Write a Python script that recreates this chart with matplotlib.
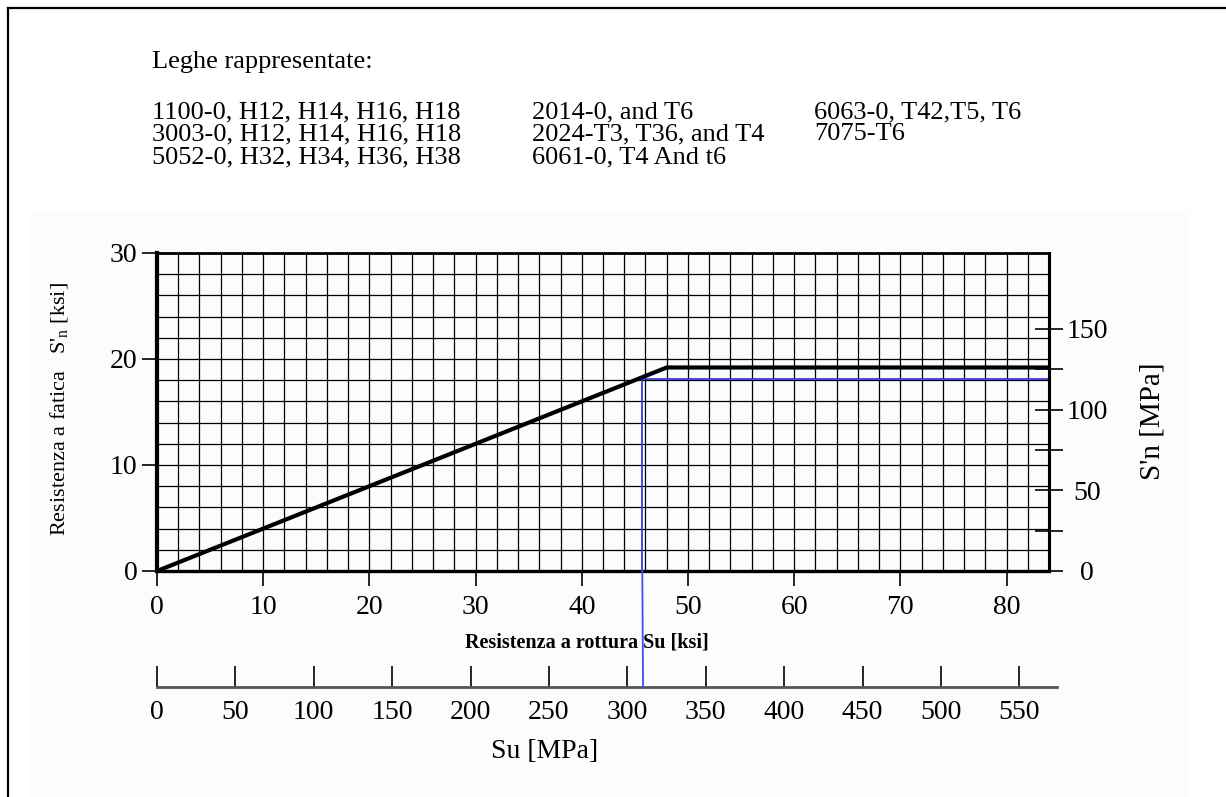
import numpy as np
import matplotlib
matplotlib.use("Agg")
import matplotlib.pyplot as plt
from matplotlib.patches import ConnectionPatch, Rectangle

plt.rcParams['font.family'] = ['Liberation Serif', 'DejaVu Serif']
plt.rcParams['mathtext.fontset'] = 'custom'
plt.rcParams['mathtext.rm'] = 'Liberation Serif'

# fatigue strength curve (ksi)
su_ksi = [0, 48, 84]
sn_ksi = [0, 19.2, 19.2]
# example reading (blue)
pt_su_ksi = 45.7
pt_sn_ksi = 18.1
pt_su_mpa = 310

ksi_ticks = [0, 10, 20, 30, 40, 50, 60, 70, 80]
sn_ticks = [0, 10, 20, 30]
mpa_right_ticks = [0, 25, 50, 75, 100, 125, 150]
mpa_bottom_ticks = [0, 50, 100, 150, 200, 250, 300, 350, 400, 450, 500, 550]

col1 = ["1100-0, H12, H14, H16, H18", "3003-0, H12, H14, H16, H18", "5052-0, H32, H34, H36, H38"]
col2 = ["2014-0, and T6", "2024-T3, T36, and T4", "6061-0, T4 And t6"]
col3 = ["6063-0, T42,T5, T6", "7075-T6"]

W, H = 1226, 797
fig = plt.figure(figsize=(W / 100, H / 100), dpi=100)


def fx(px):
    return px / W


def fy(py):
    return 1 - py / H


# very faint background of the pasted chart area
fig.add_artist(Rectangle((fx(30), 0), fx(1190) - fx(30), fy(210), facecolor='#fcfcfc',
                         edgecolor='none', zorder=-10))

# figure frame
fig.add_artist(plt.Line2D([fx(8), fx(8)], [0, fy(8)], color='black', lw=1.6))
fig.add_artist(plt.Line2D([fx(8), 1], [fy(8), fy(8)], color='black', lw=1.6))

# header text
fig.text(fx(152), fy(62), "Leghe rappresentate:", fontsize=19, va='center')
row_y = [112, 134, 157]
for x0, col in zip([152, 532, 814], [col1, col2, col3]):
    for i, s in enumerate(col):
        fig.text(fx(x0), fy(row_y[i]), s, fontsize=19, va='center')

# main axes
ax = fig.add_axes([fx(157), fy(571), fx(1049) - fx(157), fy(253) - fy(571)])
ax.patch.set_facecolor('#fcfcfc')
ax.set_xlim(0, 84)
ax.set_ylim(0, 30)
ax.set_xticks(ksi_ticks)
ax.set_yticks(sn_ticks)
ax.set_xticks(np.arange(0, 85, 2), minor=True)
ax.set_yticks(np.arange(0, 31, 2), minor=True)
ax.grid(which='both', color='black', lw=0.9)
ax.set_axisbelow(True)
ax.tick_params(which='minor', length=0)
ax.tick_params(axis='x', which='major', direction='out', length=10.5, width=1.2, pad=6.5, labelsize=20)
ax.tick_params(axis='y', which='major', direction='out', length=10.5, width=1.2, pad=3.6, labelsize=20)
for side, w in [('left', 3.0), ('bottom', 2.4), ('right', 2.2), ('top', 2.0)]:
    ax.spines[side].set_linewidth(w)

ax.hlines(pt_sn_ksi, pt_su_ksi, su_ksi[-1], color='#3a3ae8', lw=1.3, zorder=3)
ax.vlines(pt_su_ksi, 0, pt_sn_ksi, color='#3a3ae8', lw=1.3, zorder=3)
ax.plot(su_ksi, sn_ksi, color='black', lw=3.0, solid_capstyle='butt', zorder=4)

# right MPa axis
ax2 = ax.twinx()
ax2.set_ylim(0, 197)
ax2.set_yticks(mpa_right_ticks)
ax2.set_yticklabels([str(v) if v % 50 == 0 else '' for v in mpa_right_ticks])
ax2.tick_params(direction='inout', length=20, width=1.2, pad=17.4, labelsize=20)
for lab in ax2.get_yticklabels():
    lab.set_horizontalalignment('center')
for side in ['left', 'top', 'bottom']:
    ax2.spines[side].set_visible(False)
ax2.spines['right'].set_linewidth(2.2)

# bottom MPa scale
ax3 = fig.add_axes([fx(157), fy(687), fx(1057) - fx(157), 0.0001])
ax3.set_xlim(0, 574)
ax3.set_xticks(mpa_bottom_ticks)
ax3.set_yticks([])
ax3.patch.set_visible(False)
for side in ['left', 'top', 'right']:
    ax3.spines[side].set_visible(False)
ax3.spines['bottom'].set_color('#555555')
ax3.spines['bottom'].set_linewidth(2.0)
ax3.tick_params(axis='x', direction='in', length=15, width=1.2, pad=9.4, labelsize=20)

con = ConnectionPatch(xyA=(pt_su_ksi, 0), coordsA=ax.transData,
                      xyB=(pt_su_mpa, 0), coordsB=ax3.transData,
                      color='#4848f0', lw=1.3)
fig.add_artist(con)

# labels
fig.text(fx(60), fy(409), "Resistenza a fatica   S'$_\\mathregular{n}$ [ksi]",
         rotation=90, fontsize=16, ha='center', va='center')
fig.text(fx(1153), fy(421), "S'n [MPa]", rotation=90, fontsize=21, ha='center', va='center')
fig.text(fx(587), fy(642), "Resistenza a rottura Su [ksi]", fontsize=14.5,
         weight='bold', ha='center', va='center')
fig.text(fx(545), fy(751), "Su [MPa]", fontsize=20, ha='center', va='center')

fig.savefig("out.png", dpi=100)
